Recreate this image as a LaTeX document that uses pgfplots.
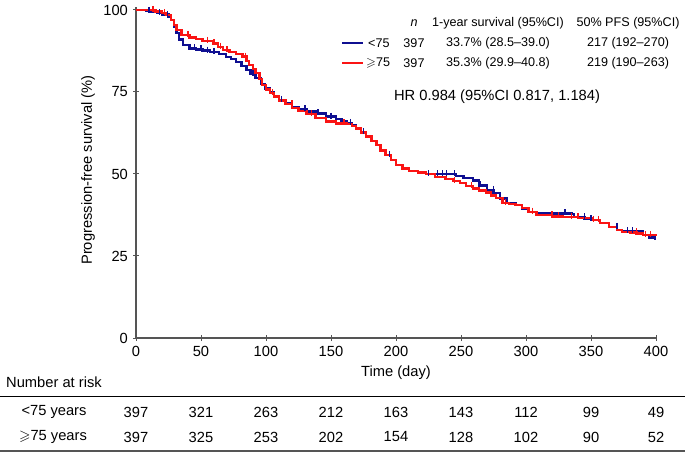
\documentclass[border=0pt]{standalone}
\usepackage{pgfplots}
\pgfplotsset{compat=1.18}
\usepackage{amssymb}
\usepackage{fontspec}
\setmainfont{Liberation Sans}
\definecolor{kmblue}{RGB}{15,15,145}
\definecolor{kmred}{RGB}{250,20,20}
\definecolor{axgray}{RGB}{85,85,85}
\newcommand\fbig{\fontsize{14.7}{17}\selectfont}
\newcommand\fsmall{\fontsize{12.6}{15}\selectfont}

\begin{document}
\fbig
\begin{tikzpicture}[x=1pt,y=1pt]
\useasboundingbox (0,0) rectangle (685,-452);
\begin{axis}[
    at={(136pt,-338pt)}, anchor=south west,
    scale only axis,
    width=520pt, height=331.3pt,
    xmin=0, xmax=400, ymin=0, ymax=101,
    axis lines=left,
    axis line style={axgray, line width=1.5pt, -},
    xtick={0,50,...,400},
    ytick={0,25,50,75,100},
    tick align=center,
    major tick length=6pt,
    tick style={axgray, line width=1pt},
    /pgf/number format/assume math mode=true,
    tick label style={font=\fbig},
    xlabel={Time (day)},
    ylabel={Progression-free survival (\%)},
    xlabel style={at={(axis description cs:0.5,-0.106)}, anchor=center, font=\fbig},
    ylabel style={at={(axis description cs:-0.0923,0.507)}, anchor=center, font=\fbig},
    clip=false,
]
% <75 years
\addplot[const plot, kmblue, line width=2.4pt] coordinates {
(0,100) (5,100) (8,99.8) (12,99.3) (16,99) (20,98.6) (25,98) (27,97) (29,95)
(31,92.9) (33,91) (36,89.3) (41,88.3) (46,88) (51,87.6) (57,87.2) (64,86.6)
(69,85.6) (73,85) (77,84.2) (81,83) (85,81.7) (88,80.5) (92,79.2) (96,77.5)
(99,76.1) (103,74.8) (106,73.8) (110,72.6) (115,71.5) (120,70.5) (125,69.8)
(131,69) (138,68.5) (146,67.5) (154,66.7) (158,66) (162,65.6) (166,64.8)
(169,63.9) (173,62.7) (177,61.4) (181,60) (185,58.8) (188,57.3) (192,55.8)
(196,54.2) (200,52.7) (205,51.8) (210,51) (217,50.5) (223,50) (246,49.4)
(252,48.8) (259,48) (264,46.5) (270,45.2) (275,44.2) (280,42.5) (285,41.2)
(292,40.5) (297,39.5) (302,38.5) (308,38) (335,37.8) (337,36.8) (345,36.2)
(351,36) (357,35) (364,33.9) (370,33) (374,32.6) (385,32.5) (390,31.4)
(395,30.7) (399,30.1) (400,30.1)
};
\addplot[only marks, mark=|, mark size=3pt, kmblue, line width=1.2pt] coordinates {
(10,100) (18,99.3) (22,99) (24,98.8) (45,88.6) (50,88.3) (55,87.9) (60,87.5)
(90,80.8) (112,72.9) (130,70.1) (140,68.8) (150,67.8) (165,65.9) (175,63)
(195,56.1) (225,50.3) (232,50.3) (236,50.3) (239,50.3) (245,50.3) (265,46.8) (275,45.5)
(330,38.3) (345,37.1) (350,36.5) (370,34.2) (378,32.9) (382,32.9)
};
% >=75 years
\addplot[const plot, kmred, line width=2.4pt] coordinates {
(0,100) (10,100) (15,99.5) (20,99) (23,98.5) (27,97) (29,95.5) (31,93.9)
(35,92.4) (41,91.6) (46,91.1) (51,90.6) (59,89.8) (63,88.8) (67,87.8)
(72,87.1) (77,86.6) (82,85.8) (85,84.5) (87,83.2) (90,82) (92,80.7) (95,79)
(97,77.1) (100,75.8) (103,74.6) (106,73.6) (110,72.4) (115,71.3) (120,70.2)
(125,69.2) (131,68.3) (138,67) (146,66) (154,65.4) (162,65.2) (166,64.6)
(169,63.9) (173,62.6) (177,61.4) (181,60) (185,58.8) (188,57.2) (192,55.8)
(196,54.2) (200,52.7) (205,51.7) (210,51) (217,50.4) (223,50) (230,49)
(238,48.4) (244,47.8) (249,47.2) (254,46.4) (259,45.6) (264,45) (269,44.3)
(273,43.4) (277,42.6) (282,41.1) (287,40.8) (292,40.5) (297,39.6) (302,38.5)
(308,37.5) (320,37.1) (328,36.8) (340,36.5) (351,36) (357,35) (364,33.9)
(370,33) (374,32.4) (380,32.2) (385,31.8) (390,31.4) (400,31.2)
};
\addplot[only marks, mark=|, mark size=3pt, kmred, line width=1.2pt] coordinates {
(13,100.3) (22,99.3) (40,92.7) (55,90.9) (60,90.1) (65,89.1) (70,88.1) (84,86.1)
(105,74.9) (120,71.6) (135,68.6) (160,65.7) (245,48.1) (258,46.7) (284,41.4)
(305,38.8) (320,37.8) (325,37.4) (335,37.1) (340,37.1) (352,36.3) (356,36.3)
(385,32.5) (392,31.7) (396,31.7)
};
\end{axis}

% legend block
\begin{scope}[every node/.style={font=\fsmall, inner sep=0pt}]
\node at (414,-23) {\textit{n}};
\node at (498,-23) {1-year survival (95\%CI)};
\node at (628,-23) {50\% PFS (95\%CI)};
\draw[kmblue, line width=2.6pt] (342,-43) -- (363,-43);
\draw[kmred, line width=2.6pt] (342,-63) -- (363,-63);
\node[anchor=west] at (368,-43) {<75};
\node[anchor=west] at (366,-63) {$\geqslant$75};
\node at (414,-43) {397};
\node at (414,-63) {397};
\node at (498,-43) {33.7\% (28.5--39.0)};
\node at (498,-63) {35.3\% (29.9--40.8)};
\node at (628,-43) {217 (192--270)};
\node at (628,-63) {219 (190--263)};
\end{scope}
\node[font=\fbig, inner sep=0pt] at (497,-97) {HR 0.984 (95\%CI 0.817, 1.184)};

% number at risk table
\begin{scope}[every node/.style={font=\fbig, inner sep=0pt}]
\node[anchor=west] at (6,-382) {Number at risk};
\draw[black, line width=0.9pt] (0,-396) -- (685,-396);
\draw[axgray, line width=2pt] (0,-450.5) -- (685,-450.5);
\node at (54,-412) {<75 years};
\node at (53,-437) {$\geqslant$75 years};
\foreach \v [count=\i from 0] in {397,321,263,212,163,143,112,99,49}
  \node at (136+65*\i,-412) {\v};
\foreach \v [count=\i from 0] in {397,325,253,202,154,128,102,90,52}
  \node at (136+65*\i,-437) {\v};
\end{scope}
\end{tikzpicture}
\end{document}
